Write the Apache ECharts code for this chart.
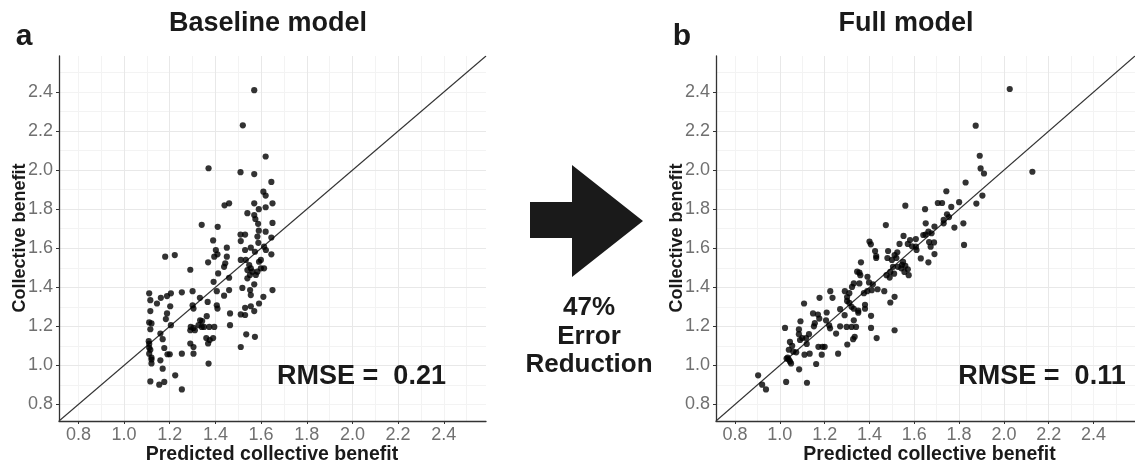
<!DOCTYPE html>
<html>
<head>
<meta charset="utf-8">
<script src="https://cdn.jsdelivr.net/npm/echarts@6/dist/echarts.min.js"></script>
<style>
html,body{margin:0;padding:0;background:#fff;}
#chart{width:1135px;height:465px;}
</style>
</head>
<body>
<div id="chart"></div>
<script>
// ---- data (predicted, observed collective benefit) ----
const baselinePoints = [
[1.57,2.41],[1.52,2.23],[1.62,2.07],[1.37,2.01],[1.51,1.99],[1.57,1.98],[1.645,1.94],[1.61,1.89],[1.62,1.87],
[1.46,1.83],[1.44,1.82],[1.57,1.83],[1.65,1.83],[1.62,1.81],[1.54,1.78],[1.59,1.80],[1.57,1.77],[1.34,1.72],
[1.41,1.71],[1.65,1.73],[1.575,1.75],[1.587,1.725],[1.62,1.685],[1.39,1.64],[1.51,1.67],[1.53,1.67],[1.584,1.66],
[1.59,1.69],[1.645,1.655],[1.588,1.628],[1.511,1.637],[1.613,1.608],[1.621,1.591],[1.555,1.603],[1.53,1.591],
[1.573,1.582],[1.645,1.569],[1.45,1.603],[1.402,1.591],[1.409,1.569],[1.395,1.557],[1.45,1.557],[1.368,1.528],
[1.443,1.523],[1.438,1.505],[1.18,1.557],[1.222,1.565],[1.29,1.49],[1.511,1.54],[1.533,1.54],[1.548,1.514],
[1.555,1.497],[1.54,1.488],[1.562,1.48],[1.584,1.48],[1.599,1.497],[1.613,1.497],[1.591,1.531],[1.599,1.54],
[1.551,1.463],[1.577,1.463],[1.54,1.446],[1.392,1.428],[1.412,1.471],[1.46,1.449],[1.518,1.397],[1.57,1.415],
[1.552,1.386],[1.555,1.36],[1.61,1.351],[1.65,1.386],[1.591,1.317],[1.57,1.278],[1.555,1.303],[1.53,1.295],
[1.511,1.261],[1.53,1.258],[1.46,1.386],[1.438,1.357],[1.406,1.38],[1.464,1.266],[1.464,1.206],[1.535,1.159],
[1.573,1.146],[1.511,1.094],[1.406,1.308],[1.409,1.291],[1.366,1.325],[1.362,1.252],[1.395,1.197],[1.373,1.197],
[1.36,1.14],[1.375,1.13],[1.39,1.14],[1.368,1.112],[1.37,1.009],[1.333,1.231],[1.342,1.227],[1.326,1.206],
[1.304,1.192],[1.292,1.197],[1.29,1.18],[1.31,1.18],[1.34,1.197],[1.35,1.197],[1.3,1.308],[1.304,1.291],
[1.3,1.38],[1.253,1.374],[1.332,1.346],[1.29,1.112],[1.304,1.094],[1.304,1.06],[1.253,1.06],[1.11,1.369],
[1.115,1.334],[1.144,1.317],[1.161,1.346],[1.188,1.355],[1.205,1.369],[1.115,1.278],[1.202,1.303],[1.188,1.266],
[1.183,1.237],[1.205,1.206],[1.11,1.22],[1.12,1.215],[1.115,1.185],[1.159,1.163],[1.169,1.134],[1.108,1.124],
[1.11,1.11],[1.11,1.09],[1.115,1.08],[1.11,1.06],[1.12,1.04],[1.12,1.03],[1.12,1.01],[1.176,1.089],[1.19,1.057],
[1.2,1.057],[1.159,1.026],[1.169,0.983],[1.115,0.918],[1.154,0.901],[1.176,0.915],[1.224,0.949],[1.253,0.877]
];
const fullPoints = [
[2.026,2.416],[1.874,2.228],[1.892,2.074],[1.896,2.009],[1.911,1.983],[2.127,1.992],[1.829,1.937],[1.743,1.892],
[1.904,1.87],[1.705,1.832],[1.724,1.832],[1.765,1.812],[1.8,1.836],[1.877,1.829],[1.56,1.818],[1.648,1.8],
[1.746,1.774],[1.755,1.76],[1.473,1.719],[1.651,1.728],[1.731,1.745],[1.731,1.728],[1.69,1.711],[1.779,1.706],
[1.819,1.728],[1.822,1.617],[1.663,1.685],[1.64,1.668],[1.65,1.67],[1.607,1.647],[1.581,1.642],[1.677,1.677],
[1.552,1.663],[1.666,1.632],[1.673,1.608],[1.688,1.63],[1.571,1.622],[1.59,1.61],[1.607,1.608],[1.61,1.591],
[1.69,1.57],[1.629,1.548],[1.663,1.528],[1.534,1.622],[1.4,1.634],[1.406,1.62],[1.425,1.586],[1.43,1.56],
[1.43,1.55],[1.483,1.586],[1.524,1.579],[1.512,1.565],[1.48,1.55],[1.5,1.54],[1.52,1.55],[1.55,1.53],[1.56,1.51],
[1.545,1.515],[1.571,1.492],[1.556,1.479],[1.575,1.462],[1.542,1.497],[1.527,1.505],[1.505,1.505],[1.493,1.479],
[1.51,1.47],[1.49,1.45],[1.476,1.462],[1.362,1.528],[1.345,1.48],[1.355,1.475],[1.391,1.454],[1.33,1.42],
[1.355,1.42],[1.415,1.415],[1.29,1.38],[1.31,1.37],[1.375,1.37],[1.39,1.38],[1.41,1.385],[1.436,1.39],
[1.466,1.38],[1.512,1.351],[1.493,1.322],[0.903,0.949],[0.921,0.901],[0.938,0.877],[1.028,0.915],[1.121,0.911],
[1.023,1.192],[1.085,1.184],[1.085,1.16],[1.1,1.14],[1.09,1.13],[1.045,1.12],[1.055,1.1],[1.04,1.08],[1.06,1.07],
[1.035,1.04],[1.04,1.03],[1.045,1.02],[1.05,1.01],[1.03,1.035],[1.073,1.067],[1.11,1.055],[1.133,1.06],
[1.117,1.14],[1.12,1.11],[1.13,1.16],[1.086,0.98],[1.162,1.007],[1.187,1.055],[1.172,1.095],[1.19,1.095],
[1.2,1.095],[1.26,1.06],[1.301,1.107],[1.327,1.134],[1.251,1.163],[1.108,1.317],[1.092,1.226],[1.148,1.266],
[1.17,1.26],[1.176,1.24],[1.156,1.216],[1.152,1.2],[1.209,1.271],[1.206,1.231],[1.22,1.205],[1.224,1.19],
[1.177,1.346],[1.225,1.38],[1.235,1.346],[1.269,1.288],[1.289,1.257],[1.269,1.2],[1.298,1.197],[1.32,1.197],
[1.34,1.197],[1.33,1.231],[1.334,1.146],[1.3,1.35],[1.3,1.33],[1.31,1.32],[1.32,1.3],[1.33,1.29],[1.322,1.402],
[1.359,1.462],[1.38,1.31],[1.38,1.29],[1.35,1.28],[1.35,1.27],[1.407,1.254],[1.407,1.192],[1.432,1.14],
[1.398,1.425],[1.512,1.18]
];
const tickValues = [0.8, 1.0, 1.2, 1.4, 1.6, 1.8, 2.0, 2.2, 2.4];
const axisRange = [0.715, 2.585];
const identityLine = [[0.715, 0.715], [2.585, 2.585]];
const panelTitles = ['Baseline model', 'Full model'];
const panelLetters = ['a', 'b'];
const rmseLabels = ['RMSE =  0.21', 'RMSE =  0.11'];
const xTitle = 'Predicted collective benefit';
const yTitle = 'Collective benefit';
const arrowText = ['47%', 'Error', 'Reduction'];

const FONT = '"Liberation Sans", Arial, Helvetica, sans-serif';
const grids = [
  {left: 59, top: 56, width: 427, height: 365},
  {left: 716, top: 56, width: 427, height: 365}
];

function majorAxis(gridIndex, isX) {
  return {
    type: 'value', gridIndex: gridIndex, min: axisRange[0], max: axisRange[1],
    position: isX ? 'bottom' : 'left', z: 1,
    axisLine: {show: true, onZero: false, lineStyle: {color: '#333', width: 1.3}},
    axisTick: {show: true, length: 3, customValues: tickValues, lineStyle: {color: '#333', width: 1}},
    axisLabel: {show: true, customValues: tickValues, margin: isX ? 5 : 6, color: '#707070',
      fontSize: 18, fontFamily: FONT, formatter: v => v.toFixed(1)},
    splitLine: {show: true, showMinLine: false, showMaxLine: false, lineStyle: {color: '#e8e8e8', width: 1}}
  };
}
function minorAxis(gridIndex, isX) {
  return {
    type: 'value', gridIndex: gridIndex, min: axisRange[0], max: axisRange[1], splitNumber: 18,
    position: isX ? 'top' : 'right', z: 0,
    axisLine: {show: false}, axisTick: {show: false}, axisLabel: {show: false},
    splitLine: {show: true, showMinLine: false, showMaxLine: false, lineStyle: {color: '#f3f3f3', width: 1}}
  };
}

const xAxes = [majorAxis(0, true), minorAxis(0, true), majorAxis(1, true), minorAxis(1, true)];
const yAxes = [majorAxis(0, false), minorAxis(0, false), majorAxis(1, false), minorAxis(1, false)];

const pointSeries = [baselinePoints, fullPoints].map((pts, i) => ({
  type: 'scatter', xAxisIndex: i * 2, yAxisIndex: i * 2, data: pts,
  symbol: 'circle', symbolSize: 6.2, itemStyle: {color: '#000'}, z: 3, silent: true
}));
const lineSeries = [0, 1].map(i => ({
  type: 'line', xAxisIndex: i * 2, yAxisIndex: i * 2, data: identityLine,
  symbol: 'none', lineStyle: {color: '#333', width: 1.1}, z: 2, silent: true
}));

function txt(x, y, text, size, opts) {
  return Object.assign({type: 'text', x: x, y: y, z: 100, silent: true,
    style: {text: text, fontSize: size, fontWeight: 'bold', fontFamily: FONT, fill: '#1a1a1a',
      align: 'center', verticalAlign: 'middle'}}, opts || {});
}

const graphics = [
  txt(268, 24, panelTitles[0], 27),
  txt(906, 24, panelTitles[1], 27),
  txt(24, 37, panelLetters[0], 30),
  txt(682, 37, panelLetters[1], 30),
  txt(361.5, 377, rmseLabels[0], 27),
  txt(1042, 377, rmseLabels[1], 27),
  txt(272, 455, xTitle, 19.5),
  txt(929.5, 455, xTitle, 19.5),
  txt(20, 238, yTitle, 18, {rotation: Math.PI / 2}),
  txt(677, 238, yTitle, 18, {rotation: Math.PI / 2}),
  txt(589, 308, arrowText[0], 26),
  txt(589, 337, arrowText[1], 26),
  txt(589, 365, arrowText[2], 26),
  {type: 'polygon', silent: true, z: 100,
   shape: {points: [[530,202],[572,202],[572,165],[643,221],[572,277],[572,238],[530,238]]},
   style: {fill: '#1a1a1a'}}
];

const chart = echarts.init(document.getElementById('chart'), null, {renderer: 'canvas'});
chart.setOption({
  animation: false,
  backgroundColor: '#fff',
  grid: grids,
  xAxis: xAxes,
  yAxis: yAxes,
  series: lineSeries.concat(pointSeries),
  graphic: graphics
});
</script>
</body>
</html>
